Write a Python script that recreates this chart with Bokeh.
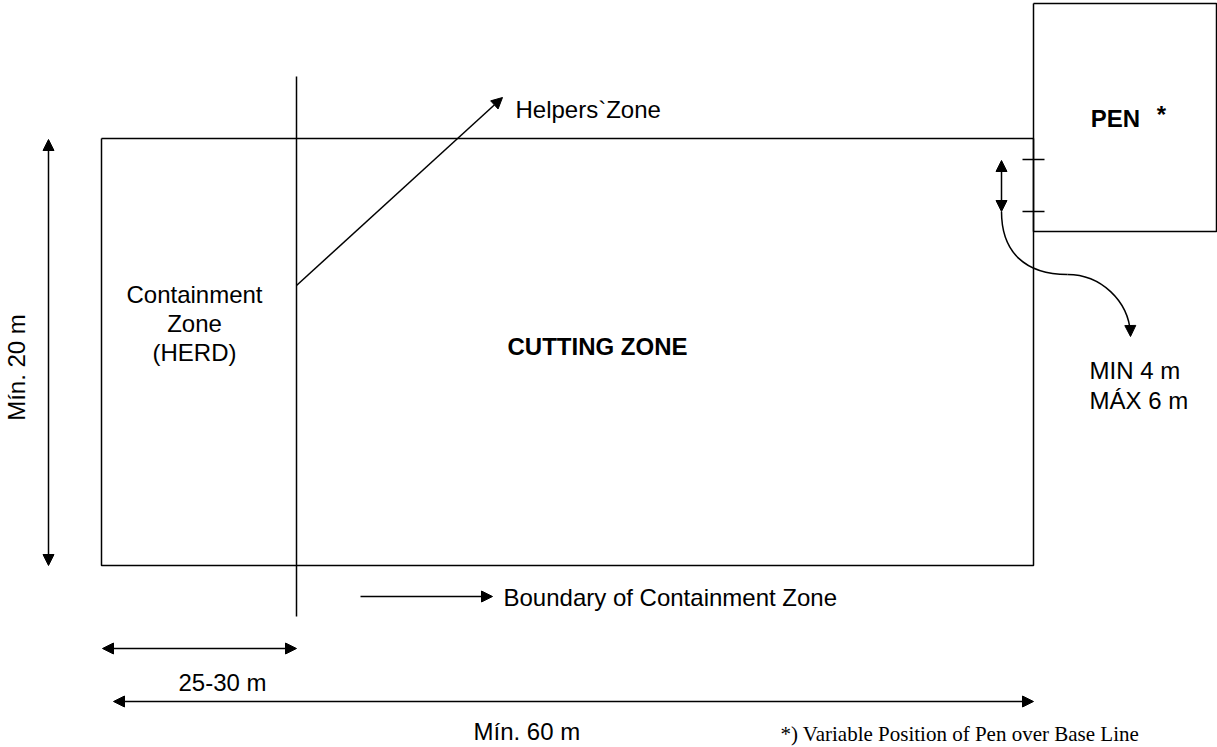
from bokeh.plotting import figure
from bokeh.models import Range1d, Arrow, NormalHead
from bokeh.core.properties import value
from bokeh.embed import file_html
from bokeh.resources import INLINE
import math

# ---- diagram geometry (reference pixel space, y downward) ----
arena_x = [101, 1033]          # cutting arena left/right
arena_y = [138, 565]           # cutting arena top/bottom
boundary_x = 296               # containment boundary line
boundary_y = [76, 616]
pen_x = [1033, 1216]
pen_y = [3, 231]

# labels
sans_labels = ["Helpers`Zone", "Containment", "Zone", "(HERD)",
               "Boundary of Containment Zone", "25-30 m", "Mín. 60 m",
               "MIN 4 m", "MÁX 6 m"]
sans_x = [515, 194, 194, 194, 503, 222, 473, 1089, 1089]
sans_y = [109, 294, 323, 352, 597, 682, 731, 370, 400]
sans_align = ["left", "center", "center", "center", "left", "center", "left", "left", "left"]

bold_labels = ["CUTTING ZONE", "PEN", "*"]
bold_x = [597, 1115, 1161]
bold_y = [346, 118, 114]

side_label = ["Mín. 20 m"]
side_x = [16]
side_y = [367]

note_label = ["*) Variable Position of Pen over Base Line"]
note_x = [780]
note_y = [733]

W, H = 1217, 747
p = figure(width=W, height=H, output_backend="svg", toolbar_location=None,
           x_range=Range1d(0, W), y_range=Range1d(H, 0),
           min_border=0, outline_line_color=None)
p.axis.visible = False
p.grid.visible = False
p.background_fill_color = "white"

LW = 1.5
# arena rectangle, pen box, containment boundary
p.multi_line(xs=[[arena_x[0], arena_x[1], arena_x[1], arena_x[0], arena_x[0]],
                 [pen_x[0], pen_x[0], pen_x[1], pen_x[1], pen_x[0]],
                 [boundary_x, boundary_x]],
             ys=[[arena_y[0], arena_y[0], arena_y[1], arena_y[1], arena_y[0]],
                 [pen_y[0], pen_y[1], pen_y[1], pen_y[0], pen_y[0]],
                 boundary_y],
             line_color="black", line_width=LW)

# gate ticks
gate_y = [159, 211]
p.segment(x0=[1022, 1022], y0=gate_y, x1=[1044, 1044], y1=gate_y, line_color="black", line_width=LW)

def head():
    return NormalHead(size=11, fill_color="black", line_color="black", line_width=1)

def arrow(x0, y0, x1, y1, double=False):
    a = Arrow(end=head(), start=head() if double else None,
              x_start=x0, y_start=y0, x_end=x1, y_end=y1,
              line_color="black", line_width=LW)
    p.add_layout(a)

arrow(296, 285, 502, 97)                     # helpers zone
arrow(48, 139, 48, 565, double=True)         # min 20 m
arrow(102, 648, 296, 648, double=True)       # 25-30 m
arrow(113, 701, 1033, 701, double=True)      # min 60 m
arrow(360, 596, 492, 596)                    # boundary
arrow(1001, 160, 1001, 211, double=True)     # gate width

# curved arrow to MIN/MAX note
p.bezier(x0=[1001, 1067], y0=[211, 274], x1=[1067, 1130], y1=[274, 333],
         cx0=[1001, 1100], cy0=[252, 274], cx1=[1025, 1128], cy1=[274, 300],
         line_color="black", line_width=LW)
p.add_layout(Arrow(end=head(), x_start=1129.8, y_start=325, x_end=1130, y_end=336,
                   line_alpha=0))

p.text(x=sans_x, y=sans_y, text=sans_labels, text_align=sans_align,
       text_baseline="middle", text_font=value("Liberation Sans"),
       text_font_size="24px", text_color="black")
p.text(x=bold_x, y=bold_y, text=bold_labels, text_align="center",
       text_baseline="middle", text_font=value("Liberation Sans"),
       text_font_size="24px", text_font_style="bold", text_color="black")
p.text(x=side_x, y=side_y, text=side_label, text_align="center",
       text_baseline="middle", angle=math.pi / 2, text_font=value("Liberation Sans"),
       text_font_size="24px", text_color="black")
p.text(x=note_x, y=note_y, text=note_label, text_align="left",
       text_baseline="middle", text_font=value("Liberation Serif"),
       text_font_size="21px", text_color="black")

open("out.html", "w").write(file_html(p, INLINE))
